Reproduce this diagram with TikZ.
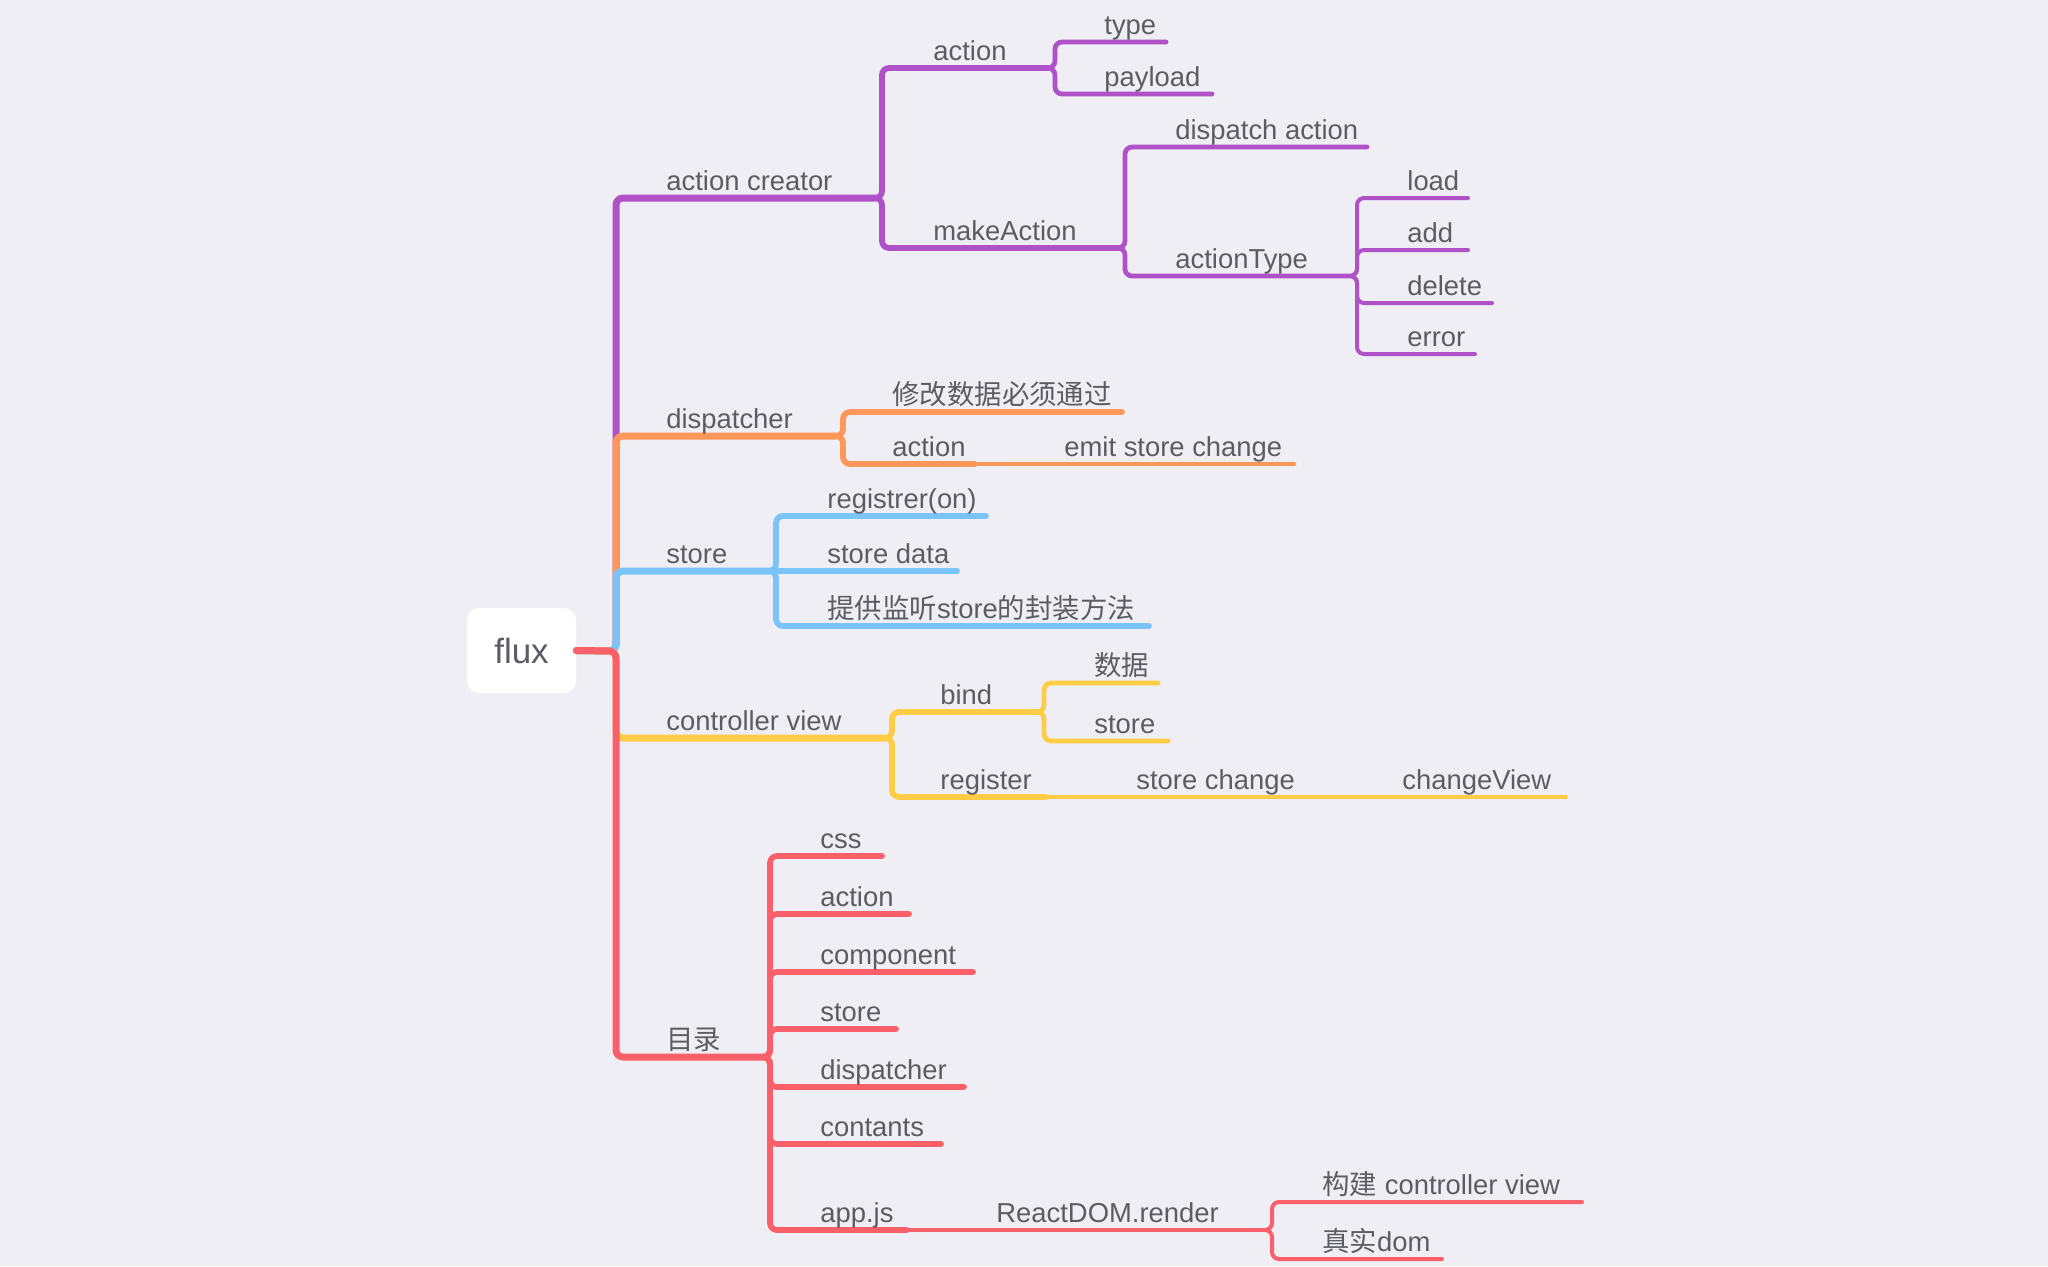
\documentclass[tikz,border=0pt]{standalone}
\usepackage{fontspec}
\setmainfont{Liberation Sans}
\newfontfamily\cjk{Noto Sans CJK SC}
\usetikzlibrary{positioning}

\definecolor{bg}{RGB}{239,238,244}
\definecolor{txt}{RGB}{92,92,100}
\definecolor{cpurple}{RGB}{175,82,200}
\definecolor{corange}{RGB}{255,150,90}
\definecolor{cblue}{RGB}{122,196,250}
\definecolor{cyellow}{RGB}{255,204,70}
\definecolor{cred}{RGB}{250,96,106}

\tikzset{
  lbl/.style={anchor=base west,inner sep=0pt,text=txt,font=\fontsize{13.7}{16}\selectfont},
  br/.style={line cap=round,line join=round,rounded corners=3.5pt},
  lone/.style={br,line width=3.5pt},
  ltwo/.style={br,line width=2.9pt},
  lthree/.style={br,line width=2.4pt},
  lfour/.style={br,line width=2pt}
}

\begin{document}
\begin{tikzpicture}[x=0.5pt,y=-0.5pt]
                \fill[bg] (0,0) rectangle (2048,1266);
                \node[fill=white,rounded corners=6pt,minimum width=54.5pt,minimum height=42.5pt,
                      text=txt,font=\fontsize{17.5}{20}\selectfont] (flux) at (521.5,650.5) {flux};
                \coordinate (trunk) at (616,651);
                % line ends
                \coordinate (ac) at (875,198);
                \coordinate (aca) at (1048,68);
                \coordinate (act) at (1166,42);
                \coordinate (acp) at (1212,94);
                \coordinate (mk) at (1118,248);
                \coordinate (mkd) at (1367,147);
                \coordinate (mkt) at (1350,276);
                \coordinate (tl) at (1468,198);
                \coordinate (ta) at (1468,250);
                \coordinate (td) at (1492,303);
                \coordinate (te) at (1475,354);
                \coordinate (dp) at (836,436);
                \coordinate (dpm) at (1122,412);
                \coordinate (dpa) at (975,464);
                \coordinate (dpe) at (1294,464);
                \coordinate (st) at (769,571);
                \coordinate (str) at (986,516);
                \coordinate (std) at (957,571);
                \coordinate (stp) at (1149,626);
                \coordinate (cv) at (885,738);
                \coordinate (cvb) at (1037,712);
                \coordinate (cvd) at (1158,683);
                \coordinate (cvs) at (1168,741);
                \coordinate (cvr) at (1046,797);
                \coordinate (cvc) at (1313,797);
                \coordinate (cvv) at (1566,797);
                \coordinate (ml) at (763,1057);
                \coordinate (mc) at (882,856);
                \coordinate (ma) at (909,914);
                \coordinate (mo) at (973,972);
                \coordinate (ms) at (896,1029);
                \coordinate (md) at (964,1087);
                \coordinate (mt) at (941,1144);
                \coordinate (mj) at (907,1230);
                \coordinate (mr) at (1265,1230);
                \coordinate (mb) at (1582,1202);
                \coordinate (mz) at (1442,1259);
                % action creator
                \draw[lone,cpurple] (flux.east) -- (trunk) |- (ac);
                \draw[ltwo,cpurple] (ac) -- ++(7,0) |- (aca);
                \draw[ltwo,cpurple] (ac) -- ++(7,0) |- (mk);
                \draw[lthree,cpurple] (aca) -- ++(7,0) |- (act);
                \draw[lthree,cpurple] (aca) -- ++(7,0) |- (acp);
                \draw[lthree,cpurple] (mk) -- ++(7,0) |- (mkd);
                \draw[lthree,cpurple] (mk) -- ++(7,0) |- (mkt);
                \foreach \t in {tl,ta,td,te}
                  \draw[lfour,cpurple] (mkt) -- ++(7,0) |- (\t);
                % dispatcher
                \draw[lone,corange] (flux.east) -- (trunk) |- (dp);
                \draw[ltwo,corange] (dp) -- ++(7,0) |- (dpm);
                \draw[ltwo,corange] (dp) -- ++(7,0) |- (dpa);
                \draw[lthree,corange] (dpa) -- (dpe);
                % store
                \draw[lone,cblue] (flux.east) -- (trunk) |- (st);
                \draw[ltwo,cblue] (st) -- ++(7,0) |- (str);
                \draw[ltwo,cblue] (st) -- (std);
                \draw[ltwo,cblue] (st) -- ++(7,0) |- (stp);
                % controller view
                \draw[lone,cyellow] (flux.east) -- (trunk) |- (cv);
                \draw[ltwo,cyellow] (cv) -- ++(7,0) |- (cvb);
                \draw[ltwo,cyellow] (cv) -- ++(7,0) |- (cvr);
                \draw[lthree,cyellow] (cvb) -- ++(7,0) |- (cvd);
                \draw[lthree,cyellow] (cvb) -- ++(7,0) |- (cvs);
                \draw[lthree,cyellow] (cvr) -- (cvc);
                \draw[lfour,cyellow] (cvc) -- (cvv);
                % mulu
                \draw[lone,cred] (flux.east) -- (trunk) |- (ml);
                \foreach \t in {mc,ma,mo,ms,md,mt,mj}
                  \draw[ltwo,cred] (ml) -- ++(7,0) |- (\t);
                \draw[lthree,cred] (mj) -- (mr);
                \draw[lfour,cred] (mr) -- ++(7,0) |- (mb);
                \draw[lfour,cred] (mr) -- ++(7,0) |- (mz);
                % labels
                \node[lbl] (ac-t) at (666,190) {action creator};
                \node[lbl] (aca-t) at (933,60) {action};
                \node[lbl] (act-t) at (1104,34) {type};
                \node[lbl] (acp-t) at (1104,86) {payload};
                \node[lbl] (mk-t) at (933,240) {makeAction};
                \node[lbl] (mkd-t) at (1175,139) {dispatch action};
                \node[lbl] (mkt-t) at (1175,268) {actionType};
                \node[lbl] (tl-t) at (1407,190) {load};
                \node[lbl] (ta-t) at (1407,242) {add};
                \node[lbl] (td-t) at (1407,295) {delete};
                \node[lbl] (te-t) at (1407,346) {error};
                \node[lbl] (dp-t) at (666,428) {dispatcher};
                \node[lbl] (dpm-t) at (892,404) {\cjk 修改数据必须通过};
                \node[lbl] (dpa-t) at (892,456) {action};
                \node[lbl] (dpe-t) at (1064,456) {emit store change};
                \node[lbl] (st-t) at (666,563) {store};
                \node[lbl] (str-t) at (827,508) {registrer(on)};
                \node[lbl] (std-t) at (827,563) {store data};
                \node[lbl] (stp-t) at (827,618) {{\cjk 提供监听}store{\cjk 的封装方法}};
                \node[lbl] (cv-t) at (666,730) {controller view};
                \node[lbl] (cvb-t) at (940,704) {bind};
                \node[lbl] (cvd-t) at (1094,675) {\cjk 数据};
                \node[lbl] (cvs-t) at (1094,733) {store};
                \node[lbl] (cvr-t) at (940,789) {register};
                \node[lbl] (cvc-t) at (1136,789) {store change};
                \node[lbl] (cvv-t) at (1402,789) {changeView};
                \node[lbl] (ml-t) at (666,1049) {\cjk 目录};
                \node[lbl] (mc-t) at (820,848) {css};
                \node[lbl] (ma-t) at (820,906) {action};
                \node[lbl] (mo-t) at (820,964) {component};
                \node[lbl] (ms-t) at (820,1021) {store};
                \node[lbl] (md-t) at (820,1079) {dispatcher};
                \node[lbl] (mt-t) at (820,1136) {contants};
                \node[lbl] (mj-t) at (820,1222) {app.js};
                \node[lbl] (mr-t) at (996,1222) {ReactDOM.render};
                \node[lbl] (mb-t) at (1322,1194) {{\cjk 构建} controller view};
                \node[lbl] (mz-t) at (1322,1251) {{\cjk 真实}dom};
            \end{tikzpicture}
\end{document}
